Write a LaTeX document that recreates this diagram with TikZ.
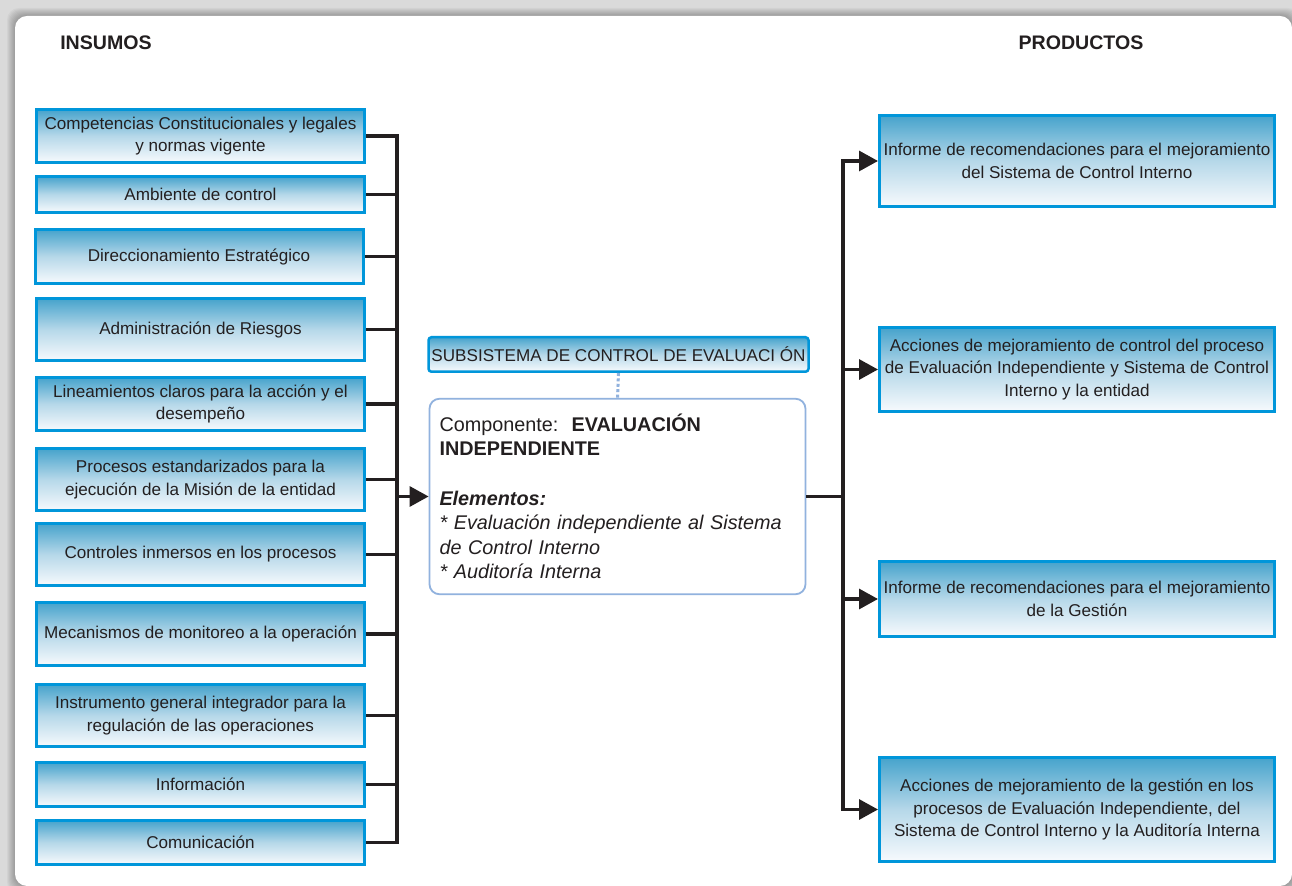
\documentclass[tikz,border=0pt]{standalone}
\usepackage{fontspec}
\setmainfont{Liberation Sans}
\usetikzlibrary{arrows.meta}

\definecolor{boxborder}{RGB}{0,150,218}
\definecolor{boxtop}{RGB}{70,163,204}
\definecolor{boxmid}{RGB}{182,216,233}
\definecolor{boxbot}{RGB}{247,250,253}
\definecolor{compborder}{RGB}{145,178,222}
\definecolor{linecol}{RGB}{35,31,32}
\definecolor{bggray}{RGB}{218,218,218}

\begin{document}
\begin{tikzpicture}[
  x=0.5pt, y=-0.5pt,
  font=\fontsize{8.55}{11.4}\selectfont,
  box/.style={draw=boxborder, line width=1.5pt, top color=boxtop,
              bottom color=boxbot, middle color=boxmid, align=center,
              inner sep=1pt, text=linecol},
  lbox/.style={box, minimum width=164pt},
  rbox/.style={box, minimum width=197.5pt},
  subbox/.style={box, line width=1.25pt, rounded corners=1.5pt,
                 minimum width=190pt, minimum height=17.25pt},
  compbox/.style={draw=compborder, line width=0.9pt, fill=white,
                  rounded corners=5pt, minimum width=188pt,
                  minimum height=97.75pt, text width=178pt, align=left,
                  text=linecol, font=\fontsize{9.9}{12.3}\selectfont},
  title/.style={font=\fontsize{9.8}{12}\selectfont\bfseries, text=linecol},
  conn/.style={linecol, line width=1.6pt},
  arr/.style={conn, -{Triangle[length=9.5pt,width=10pt]}},
  dotline/.style={compborder, line width=1.5pt, dash pattern=on 1.5pt off 1.2pt},
]
  \useasboundingbox (0,0) rectangle (1292,886);

  % --- Panel and shadow ---
  \fill[bggray] (0,0) rectangle (1292,886);
  \foreach \s in {1,...,8}
    \fill[black, opacity=0.035, rounded corners=6pt]
      (15-\s,16-\s) rectangle (1292+\s,886+\s);
  \fill[white, rounded corners=6pt] (15,16) rectangle (1292,886);

  % --- Titles ---
  \node[title] (insumos) at (106,43) {INSUMOS};
  \node[title] (productos) at (1081,43) {PRODUCTOS};

  % --- Insumos ---
  \node[lbox, minimum height=26.5pt] (ins1) at (200.5,136)
    {Competencias Constitucionales y legales\\y normas vigente};
  \node[lbox, minimum height=18pt] (ins2) at (200.5,194.5)
    {Ambiente de control};
  \node[lbox, minimum height=27pt] (ins3) at (199,256.5)
    {Direccionamiento Estratégico};
  \node[lbox, minimum height=31pt] (ins4) at (200.5,329.5)
    {Administración de Riesgos};
  \node[lbox, minimum height=26.5pt] (ins5) at (200.5,404)
    {Lineamientos claros para la acción y el\\desempeño};
  \node[lbox, minimum height=31pt] (ins6) at (200.5,479.5)
    {Procesos estandarizados para la\\ejecución de la Misión de la entidad};
  \node[lbox, minimum height=31pt] (ins7) at (200.5,554.5)
    {Controles inmersos en los procesos};
  \node[lbox, minimum height=31.5pt] (ins8) at (200.5,634)
    {Mecanismos de monitoreo a la operación};
  \node[lbox, minimum height=31pt] (ins9) at (200.5,715.5)
    {Instrumento general integrador para la\\regulación de las operaciones};
  \node[lbox, minimum height=22pt] (ins10) at (200.5,784.5)
    {Información};
  \node[lbox, minimum height=22pt] (ins11) at (200.5,842.5)
    {Comunicación};

  % --- Subsistema / componente ---
  \node[subbox] (sub) at (618.5,354.5)
    {SUBSISTEMA DE CONTROL DE EVALUACI ÓN};
  \node[compbox] (comp) at (617.5,496.5)
    {Componente:\ \ \textbf{EVALUACIÓN}\\
     \textbf{INDEPENDIENTE}\\[12.3pt]
     \textbf{\textit{Elementos:}}\\
     \textit{* Evaluación independiente al Sistema}\\
     \textit{de Control Interno}\\
     \textit{* Auditoría Interna}};
  \draw[dotline] (sub.south) -- (comp.north);

  % --- Productos ---
  \node[rbox, minimum height=45.5pt] (prod1) at (1077,161)
    {Informe de recomendaciones para el mejoramiento\\del Sistema de Control Interno};
  \node[rbox, minimum height=42pt] (prod2) at (1077,369.5)
    {Acciones de mejoramiento de control del proceso\\de Evaluación Independiente y Sistema de Control\\Interno y la entidad};
  \node[rbox, minimum height=37.5pt] (prod3) at (1077,599)
    {Informe de recomendaciones para el mejoramiento\\de la Gestión};
  \node[rbox, minimum height=52pt] (prod4) at (1077,809.5)
    {Acciones de mejoramiento de la gestión en los\\procesos de Evaluación Independiente, del\\Sistema de Control Interno y la Auditoría Interna};

  % --- Connectors ---
  \coordinate (lbus) at (397,0);
  \coordinate (rbus) at (843,0);

  \draw[conn] (ins1.east) -- (ins1.east -| lbus) -- (ins11.east -| lbus) -- (ins11.east);
  \foreach \n in {2,...,10}
    \draw[conn] (ins\n.east) -- (ins\n.east -| lbus);
  \draw[arr] (comp.west -| lbus) -- (comp.west);

  \draw[conn] (comp.east) -- (comp.east -| rbus);
  \draw[arr] (prod4.west -| rbus) -- (prod1.west -| rbus) -- (prod1.west);
  \draw[arr] (prod1.west -| rbus) -- (prod4.west -| rbus) -- (prod4.west);
  \draw[arr] (prod2.west -| rbus) -- (prod2.west);
  \draw[arr] (prod3.west -| rbus) -- (prod3.west);

\end{tikzpicture}
\end{document}
